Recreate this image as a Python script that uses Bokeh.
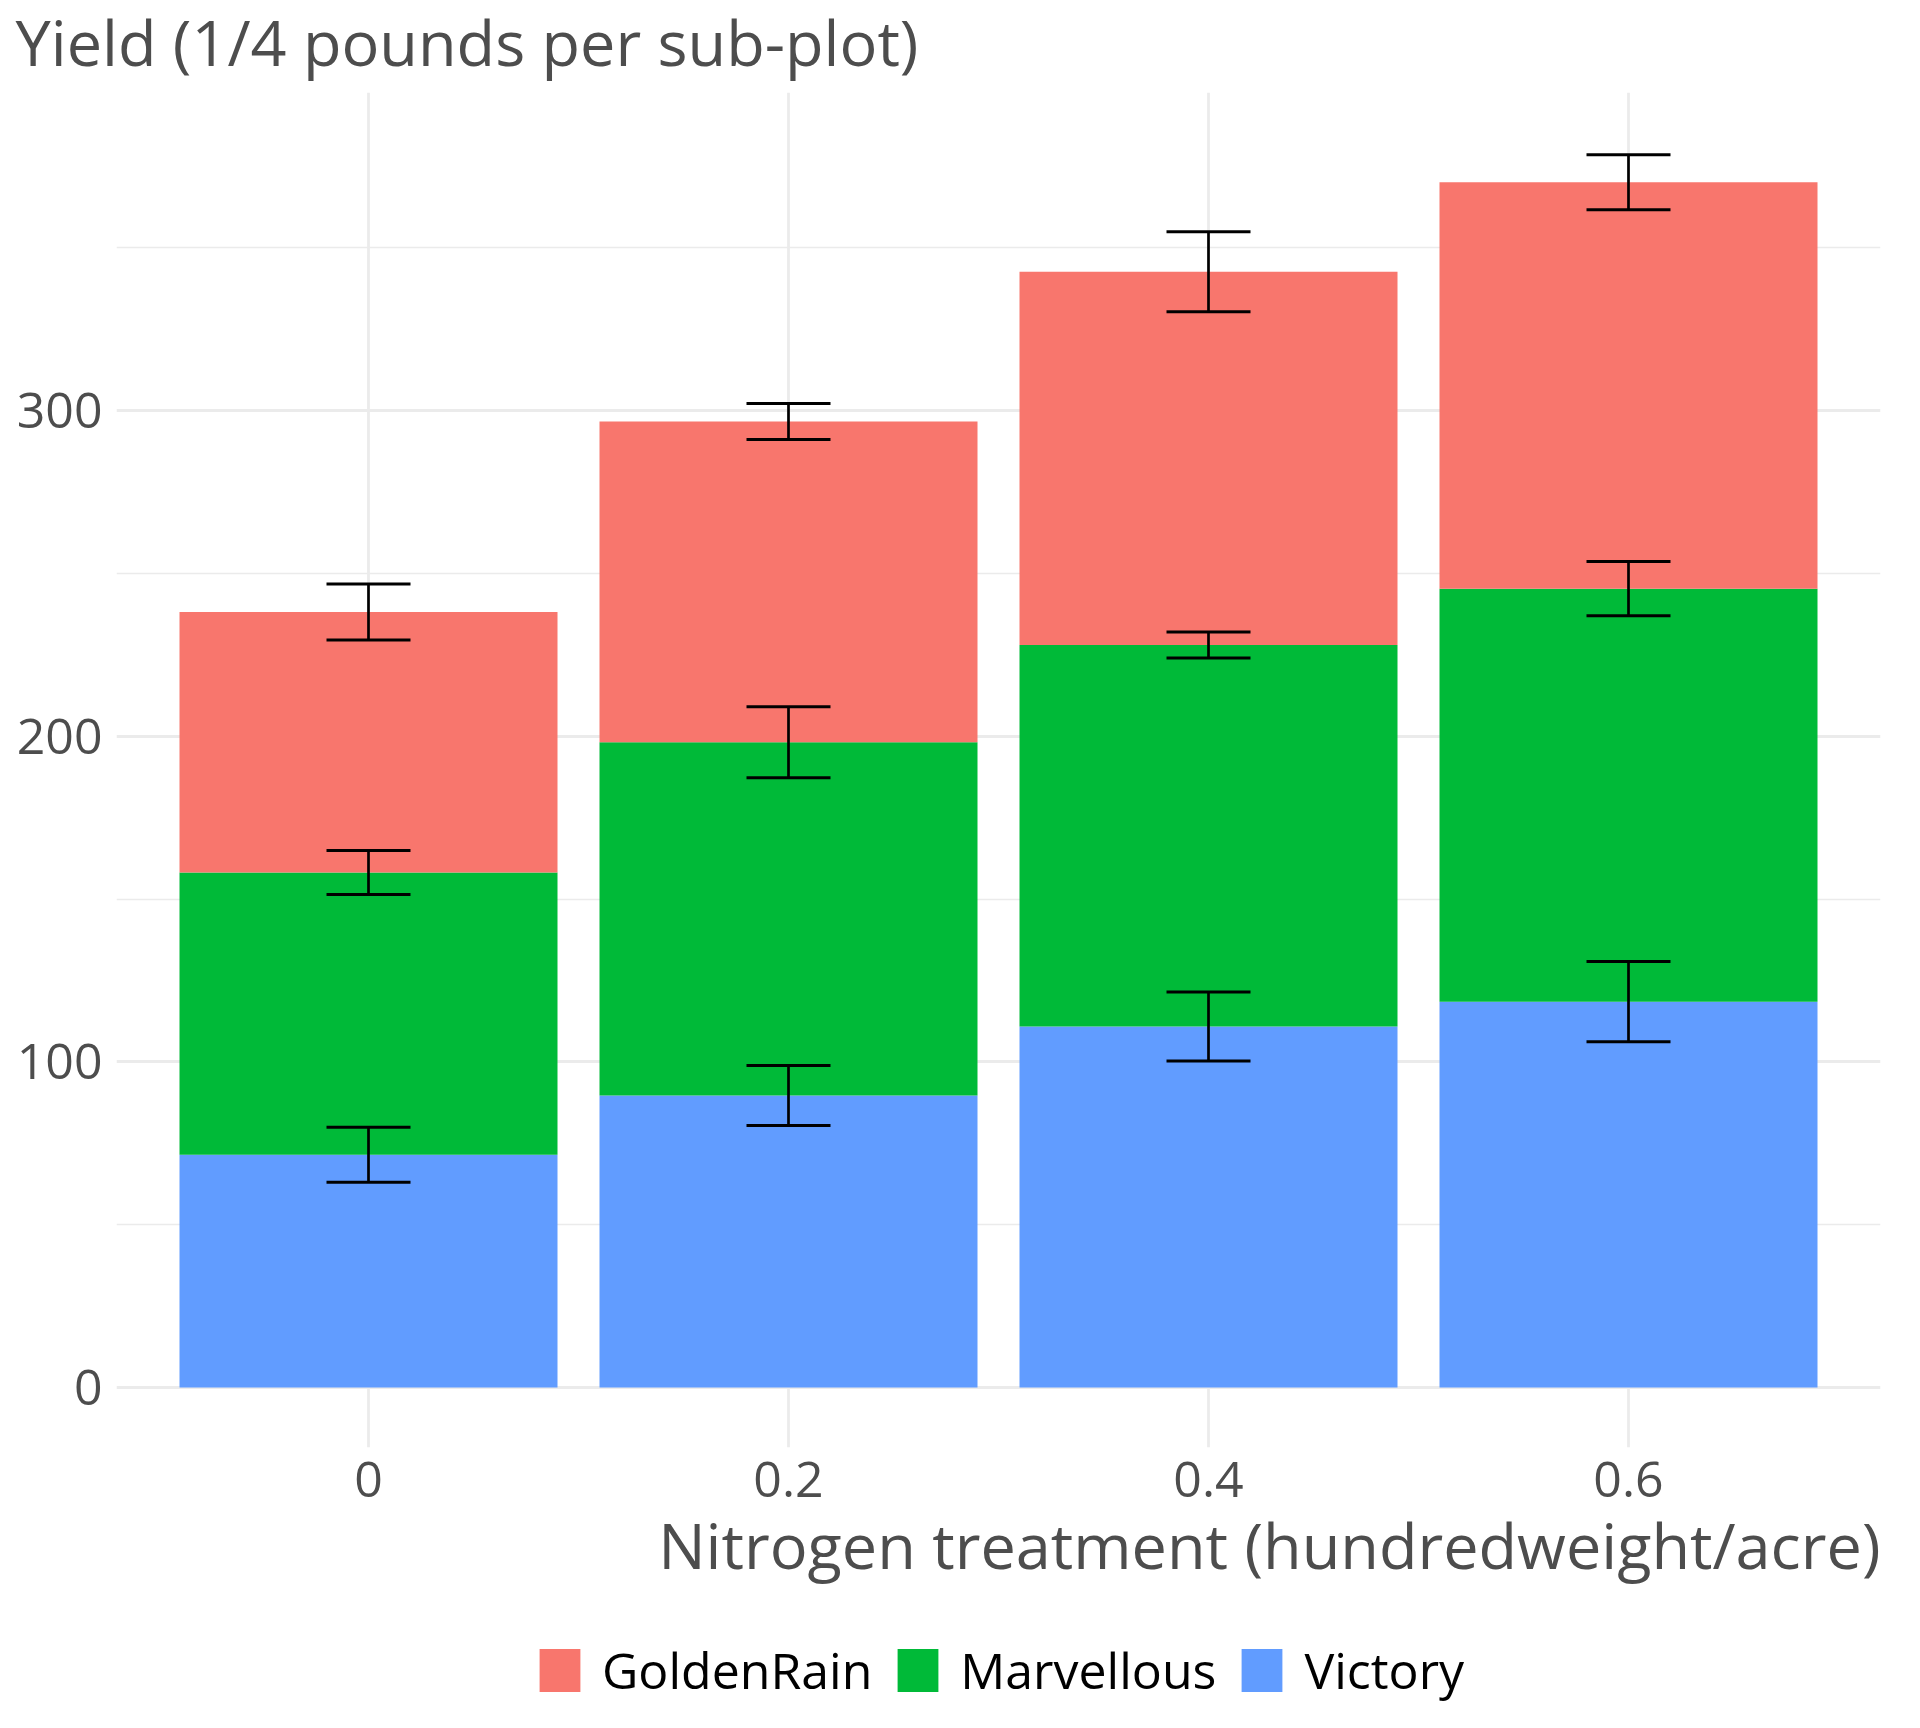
import numpy as np
from bokeh.plotting import figure
from bokeh.layouts import column
from bokeh.models import (ColumnDataSource, Range1d, FixedTicker, CustomJSTickFormatter,
                          Legend, LegendItem, Label, Title, Whisker, TeeHead)
from bokeh.embed import file_html
from bokeh.resources import INLINE

# ---- data ----
nitrogen = [0.0, 0.2, 0.4, 0.6]
nitrogen_labels = ["0", "0.2", "0.4", "0.6"]
varieties = ["GoldenRain", "Marvellous", "Victory"]
golden_rain = [80.0, 98.5, 114.67, 124.83]
marvellous = [86.67, 108.5, 117.17, 126.83]
victory = [71.5, 89.67, 110.83, 118.5]
golden_rain_se = [8.6, 5.55, 12.3, 8.45]
marvellous_se = [6.75, 10.9, 4.0, 8.35]
victory_se = [8.45, 9.2, 10.6, 12.3]
y_ticks = [0, 100, 200, 300]
y_minor = [50, 150, 250, 350]

COL_GR = "#F8766D"
COL_MA = "#00BA38"
COL_VI = "#619CFF"
TXT = "#4D4D4D"
GRID = "#EBEBEB"
FONT = "Open Sans"

W = 1904
H_MAIN = 1600
H_LEG = 112

src = ColumnDataSource(dict(N=nitrogen, Victory=victory, Marvellous=marvellous,
                            GoldenRain=golden_rain))

p = figure(width=W, height=H_MAIN, x_range=Range1d(-0.12, 0.72),
           y_range=Range1d(-18.43, 397.7), output_backend="svg",
           toolbar_location=None, min_border_left=116, min_border_right=24,
           min_border_top=92, min_border_bottom=H_MAIN - 1447)
p.outline_line_color = None
p.background_fill_color = "white"
p.border_fill_color = "white"

rs = p.vbar_stack(["Victory", "Marvellous", "GoldenRain"], x="N", width=0.18,
                  color=[COL_VI, COL_MA, COL_GR], line_color=None, source=src)

# error bars at cumulative tops
v = np.array(victory)
m = np.array(marvellous)
g = np.array(golden_rain)
tops = np.concatenate([v, v + m, v + m + g])
ses = np.concatenate([victory_se, marvellous_se, golden_rain_se])
xs = np.concatenate([nitrogen, nitrogen, nitrogen])
esrc = ColumnDataSource(dict(x=xs, upper=tops + ses, lower=tops - ses))
wh = Whisker(source=esrc, base="x", upper="upper", lower="lower", dimension="height",
             line_color="black", line_width=2.7, level="overlay",
             upper_head=TeeHead(size=84, line_width=3, line_color="black"),
             lower_head=TeeHead(size=84, line_width=3, line_color="black"))
p.add_layout(wh)

# axes
p.xaxis.ticker = FixedTicker(ticks=nitrogen)
p.xaxis.formatter = CustomJSTickFormatter(args=dict(vals=nitrogen, labs=nitrogen_labels), code="""
for (let i = 0; i < vals.length; i++) { if (Math.abs(tick - vals[i]) < 1e-9) return labs[i]; }
return '';
""")
p.yaxis.ticker = FixedTicker(ticks=y_ticks, minor_ticks=y_minor)
for ax in (p.xaxis, p.yaxis):
    ax.axis_line_color = None
    ax.major_tick_line_color = None
    ax.minor_tick_line_color = None
    ax.major_tick_out = 0
    ax.major_tick_in = 0
    ax.minor_tick_out = 0
    ax.minor_tick_in = 0
    ax.major_label_text_font = FONT
    ax.major_label_text_font_size = "50px"
    ax.major_label_text_color = TXT
p.xaxis.major_label_standoff = 14
p.yaxis.major_label_standoff = 14

p.xgrid.ticker = FixedTicker(ticks=nitrogen)
p.ygrid.ticker = FixedTicker(ticks=y_ticks, minor_ticks=y_minor)
p.xgrid.grid_line_color = GRID
p.ygrid.grid_line_color = GRID
p.xgrid.grid_line_width = 2.8
p.ygrid.grid_line_width = 2.8
p.ygrid.minor_grid_line_color = GRID
p.ygrid.minor_grid_line_width = 1.35

# y title at the top left
p.add_layout(Label(x=-101, y=51, x_units="screen", y_units="screen",
                   text="Yield (1/4 pounds per sub-plot)", text_font=FONT,
                   text_font_size="63px", text_color=TXT, text_align="left",
                   text_baseline="alphabetic"), "above")

# x title, right aligned under the frame
xt = Title(text="Nitrogen treatment (hundredweight/acre)", align="right",
           vertical_align="top", standoff=5, offset=0, text_font=FONT,
           text_font_size="63px", text_font_style="normal", text_color=TXT)
p.add_layout(xt, "below")

# legend strip underneath (its own small figure; proxies hold no drawable point)
q = figure(width=W, height=H_LEG, x_range=Range1d(0, 1), y_range=Range1d(0, 1),
           output_backend="svg", toolbar_location=None, min_border=0)
q.axis.visible = False
q.grid.visible = False
q.outline_line_color = None
q.background_fill_color = "white"
q.border_fill_color = "white"
proxy = ColumnDataSource(dict(x=[np.nan], top=[np.nan]))
leg_colors = [COL_GR, COL_MA, COL_VI]
items = []
for name, col in zip(varieties, leg_colors):
    r = q.vbar(x="x", top="top", width=0.1, source=proxy, fill_color=col,
               line_color=None)
    items.append(LegendItem(label=name, renderers=[r]))

legend = Legend(items=items, orientation="horizontal", location=(418, 8),
                glyph_width=51, glyph_height=54, label_standoff=17, spacing=20,
                padding=0, margin=0, border_line_color=None,
                background_fill_alpha=0, label_text_font=FONT,
                label_text_font_size="50px", label_text_color="black")
q.add_layout(legend)

layout = column(p, q, spacing=0)
open("out.html", "w").write(file_html(layout, INLINE))
